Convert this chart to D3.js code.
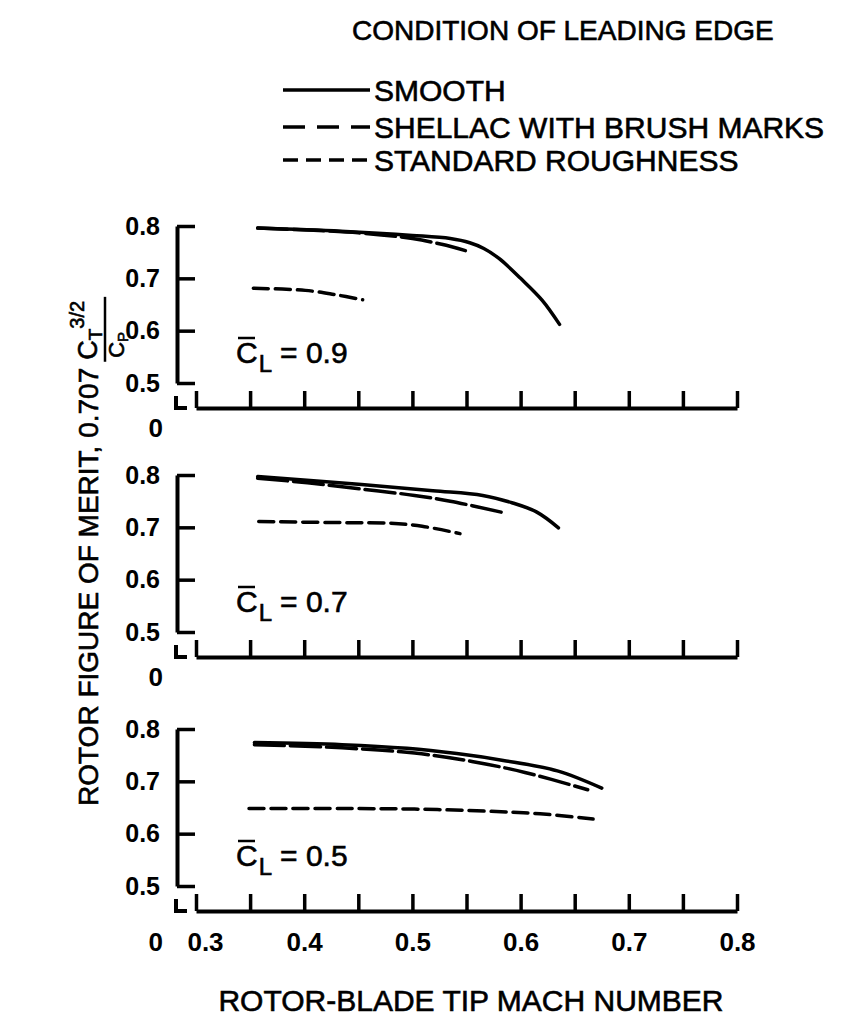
<!DOCTYPE html>
<html><head><meta charset="utf-8">
<script src="https://cdn.jsdelivr.net/npm/d3@7/dist/d3.min.js"></script>
<style>
body{margin:0;background:#fff;}
svg{display:block;}
text{font-family:"Liberation Sans",Arial,Helvetica,sans-serif;fill:#000;}
.med{stroke:#000;stroke-width:0.6px;}
</style></head>
<body>
<svg id="chart" width="849" height="1023"></svg>
<script>
// ---------- data ----------
const legendTitle = "CONDITION OF LEADING EDGE";
const seriesNames = ["SMOOTH", "SHELLAC WITH BRUSH MARKS", "STANDARD ROUGHNESS"];
const clValues = ["0.9", "0.7", "0.5"];
const xTickValues = [0.3,0.35,0.4,0.45,0.5,0.55,0.6,0.65,0.7,0.75,0.8];
const xTickLabels = ["0.3","0.4","0.5","0.6","0.7","0.8"];
const yTickValues = [0.5,0.6,0.7,0.8];
const xTitle = "ROTOR-BLADE TIP MACH NUMBER";
const yTitle = "ROTOR FIGURE OF MERIT, 0.707";

// panel CL = 0.9
const smooth09  = [[0.357,0.796],[0.434,0.790],[0.500,0.782],[0.535,0.776],[0.553,0.768],[0.566,0.757],[0.580,0.738],[0.600,0.700],[0.620,0.658],[0.636,0.612]];
const shellac09 = [[0.357,0.796],[0.450,0.787],[0.500,0.776],[0.527,0.765],[0.549,0.753]];
const rough09   = [[0.353,0.681],[0.401,0.677],[0.428,0.669],[0.454,0.659]];
// panel CL = 0.7
const smooth07  = [[0.357,0.797],[0.453,0.782],[0.519,0.770],[0.565,0.761],[0.592,0.747],[0.615,0.729],[0.635,0.699]];
const shellac07 = [[0.357,0.794],[0.403,0.785],[0.453,0.773],[0.502,0.761],[0.535,0.750],[0.582,0.729]];
const rough07   = [[0.358,0.711],[0.436,0.709],[0.479,0.708],[0.509,0.702],[0.544,0.688]];
// panel CL = 0.5
const smooth05  = [[0.354,0.774],[0.435,0.770],[0.495,0.763],[0.541,0.753],[0.584,0.740],[0.634,0.720],[0.675,0.687]];
const shellac05 = [[0.354,0.770],[0.435,0.764],[0.502,0.754],[0.555,0.738],[0.604,0.717],[0.662,0.684]];
const rough05   = [[0.349,0.648],[0.435,0.648],[0.502,0.647],[0.568,0.643],[0.618,0.638],[0.667,0.628]];

const panelSeries = [[smooth09,shellac09,rough09],[smooth07,shellac07,rough07],[smooth05,shellac05,rough05]];

// ---------- styles / layout ----------
const dashes = [null, "30,6", "15,7"];
const legendDashes = [null, "22,12", "15,8"];
const panelTops = [226, 475, 729];   // pixel of 0.8
const panelH = 157;                   // 0.8 -> 0.5
const axisGap = 25;                   // 0.5 line -> x-axis
const xLeft = 196, xRight = 737, yAxisX = 177;

const svg = d3.select("#chart");
const x = d3.scaleLinear().domain([0.3,0.8]).range([xLeft,xRight]);
const line = d3.line().x(d=>x(d[0])).curve(d3.curveCatmullRom.alpha(0.5));

// legend
svg.append("text").attr("class","med").attr("x",352).attr("y",40).attr("font-size",28).text(legendTitle);
const legY = [90,127,160];
seriesNames.forEach((n,i)=>{
  svg.append("line").attr("x1",283).attr("x2",370).attr("y1",legY[i]).attr("y2",legY[i])
    .attr("stroke","#000").attr("stroke-width",3.5)
    .attr("stroke-dasharray",legendDashes[i]);
  svg.append("text").attr("class","med").attr("x",374).attr("y",legY[i]+11).attr("font-size",30).text(n);
});

panelTops.forEach((top,p)=>{
  const y = d3.scaleLinear().domain([0.5,0.8]).range([top+panelH, top]);
  const axisY = top+panelH+axisGap;
  const g = svg.append("g");

  // y axis
  const ya = d3.axisLeft(y).tickValues(yTickValues).tickSize(-18).tickSizeOuter(0).tickPadding(17)
    .tickFormat(d3.format(".1f"));
  const yg = g.append("g").attr("transform",`translate(${yAxisX},0)`).call(ya);
  yg.select(".domain").attr("stroke","#000").attr("stroke-width",4);
  yg.selectAll(".tick line").attr("stroke","#000").attr("stroke-width",3.5);
  yg.selectAll(".tick text").attr("font-size",25).attr("font-weight","bold")
    .attr("font-family","Liberation Sans, Arial, sans-serif").attr("fill","#000");

  // axis break hook
  g.append("path").attr("d",`M${yAxisX-1},${axisY-12}V${axisY}H${yAxisX+10}`)
    .attr("fill","none").attr("stroke","#000").attr("stroke-width",4);
  // zero label
  g.append("text").attr("x",163).attr("y",axisY+(p===2?31:20)).attr("dy","0.36em")
    .attr("text-anchor","end").attr("font-size",26).attr("font-weight","bold").text("0");

  // x axis
  const xa = d3.axisBottom(x).tickValues(xTickValues).tickSize(-17).tickSizeOuter(0).tickPadding(22)
    .tickFormat(d=> (p===2 && xTickLabels.includes(d.toFixed(2).replace(/0$/,''))) ? d.toFixed(1) : "");
  const xg = g.append("g").attr("transform",`translate(0,${axisY})`).call(xa);
  xg.select(".domain").attr("stroke","#000").attr("stroke-width",4);
  xg.selectAll(".tick line").attr("stroke","#000").attr("stroke-width",3.5);
  xg.selectAll(".tick text").attr("font-size",26).attr("font-weight","bold")
    .attr("font-family","Liberation Sans, Arial, sans-serif").attr("fill","#000")
    .attr("dx", d => d === 0.3 ? 9 : 0);

  // curves
  panelSeries[p].forEach((s,i)=>{
    g.append("path").datum(s).attr("d",line.y(d=>y(d[1])))
      .attr("fill","none").attr("stroke","#000").attr("stroke-width",3.5)
      .attr("stroke-linecap","round").attr("stroke-dasharray",dashes[i]);
  });

  // C_L label
  const base = y(0.5)-20;
  const t = g.append("text").attr("class","med").attr("x",236).attr("y",base).attr("font-size",30);
  t.append("tspan").text("C");
  t.append("tspan").attr("font-size",24).attr("dy",9).attr("dx",1).text("L");
  t.append("tspan").attr("dy",-9).attr("dx",8).text("= "+clValues[p]);
  g.append("line").attr("x1",238).attr("x2",255).attr("y1",base-25).attr("y2",base-25)
    .attr("stroke","#000").attr("stroke-width",2.5);
});

// x title
svg.append("text").attr("class","med").attr("x",471).attr("y",1011).attr("text-anchor","middle").attr("font-size",30).text(xTitle);

// y title (rotated)
const yt = svg.append("g").attr("transform","translate(98,806) rotate(-90)");
const main = yt.append("text").attr("class","med").attr("x",0).attr("y",0).attr("font-size",28).text(yTitle);
const L = main.node().getComputedTextLength();
const fx = L + 6;
const num = yt.append("text").attr("class","med").attr("x",fx+2).attr("y",-1).attr("font-size",27);
num.append("tspan").text("C");
num.append("tspan").attr("font-size",19).attr("dy",5).text("T");
num.append("tspan").attr("font-size",20).attr("dy",-18).text("3/2");
const numLen = num.node().getComputedTextLength();
yt.append("line").attr("x1",fx).attr("x2",fx+numLen+6).attr("y1",7).attr("y2",7)
  .attr("stroke","#000").attr("stroke-width",2.5);
const den = yt.append("text").attr("class","med").attr("x",fx+4).attr("y",26).attr("font-size",22);
den.append("tspan").text("C");
den.append("tspan").attr("font-size",15).attr("dy",4).text("P");
</script>
</body></html>
